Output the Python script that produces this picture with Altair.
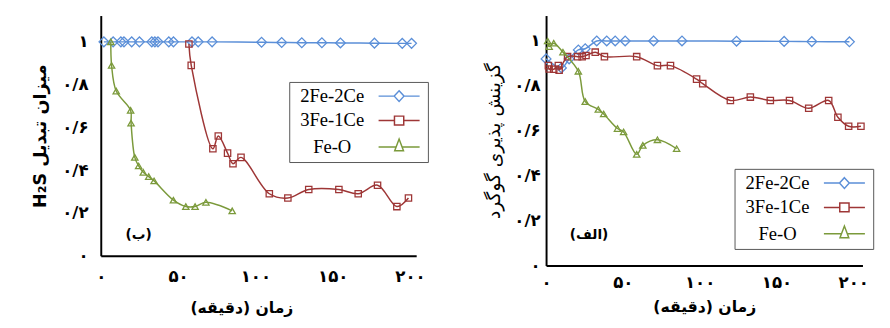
import altair as alt
import pandas as pd

# ---------------- data ----------------
series_names = ["2Fe-2Ce", "3Fe-1Ce", "Fe-O"]
series_colors = ["#5b8fd8", "#9e3636", "#7b9a3b"]
point_shapes = ["diamond", "square", "triangle-up"]
point_sizes = [100, 42, 42]

# panel (ب): H2S conversion
b_fe2ce2_t = [2, 8, 13, 15, 20, 25, 33, 35, 37, 44, 47, 59, 63, 72, 104, 117, 130, 143, 155, 177, 195, 201]
b_fe2ce2_v = [1.0, 1.0, 1.0, 1.0, 1.0, 1.0, 1.0, 1.0, 1.0, 1.0, 1.0, 1.0, 1.0, 1.0, 0.998, 0.997, 0.996,
              0.996, 0.995, 0.994, 0.993, 0.993]
b_fe3ce1_t = [57, 58.5, 72.5, 76, 82, 85.5, 90.7, 109, 121, 134.5, 154, 166.5, 179, 191.5, 199]
b_fe3ce1_v = [0.99, 0.89, 0.50, 0.56, 0.48, 0.43, 0.46, 0.29, 0.27, 0.31, 0.31, 0.29, 0.33, 0.23, 0.27]
b_feo_t = [6.5, 7, 10, 19.3, 19.6, 22, 24.5, 27.5, 31, 34.5, 47, 55, 61, 68, 85]
b_feo_v = [1.0, 0.89, 0.77, 0.68, 0.62, 0.46, 0.42, 0.39, 0.37, 0.35, 0.26, 0.23, 0.23, 0.25, 0.21]

# panel (الف): sulfur selectivity
a_fe2ce2_t = [0, 10, 15, 21, 25.5, 33, 39.5, 45, 51.5, 70, 88.5, 124, 155, 173, 197.5]
a_fe2ce2_v = [0.92, 0.88, 0.92, 0.96, 0.965, 1.0, 1.0, 1.0, 1.0, 1.0, 1.0, 0.999, 0.998, 0.997, 0.996]
a_fe3ce1_t = [1.5, 2, 5, 8, 8.5, 14, 20.5, 23.5, 26, 32, 38, 59, 72.5, 81, 98, 102, 120, 133, 146,
              158.5, 171, 184, 190, 197, 205]
a_fe3ce1_v = [0.89, 0.875, 0.874, 0.89, 0.87, 0.93, 0.93, 0.93, 0.935, 0.95, 0.93, 0.93, 0.89, 0.89,
              0.83, 0.81, 0.735, 0.75, 0.735, 0.735, 0.70, 0.735, 0.66, 0.62, 0.62]
a_feo_t = [1, 2, 5, 11, 21, 25.5, 34, 37.5, 46.5, 50.5, 59, 63, 72.5, 85]
a_feo_v = [1.0, 0.975, 0.99, 0.95, 0.865, 0.73, 0.695, 0.675, 0.61, 0.595, 0.495, 0.535, 0.56, 0.52]

# axis ticks
x_tick_values = [0, 50, 100, 150, 200]
x_tick_labels = ["۰", "۵۰", "۱۰۰", "۱۵۰", "۲۰۰"]
y_tick_values = [0, 0.2, 0.4, 0.6, 0.8, 1]
y_tick_labels = ["۰", "۰/۲", "۰/۴", "۰/۶", "۰/۸", "۱"]

# texts
x_title = "\u200fزمان (دقیقه)\u200f"
b_y_title = "H₂S میزان تبدیل"
a_y_title = "گزینش پذیری گوگرد"
annot_text = ["(ب)", "(الف)"]
annot_t = [24.5, 28]
annot_v = [0.095, 0.135]

# legend symbols (line with marker) as custom paths
legend_paths = [
    "M-4.2,0L-1,0M1,0L4.2,0M0,-1.1L1,0L0,1.1L-1,0Z",
    "M-4.2,0L-0.95,0M0.95,0L4.2,0M-0.95,-0.9L0.95,-0.9L0.95,0.9L-0.95,0.9Z",
    "M-4.2,0L-0.6,0M0.6,0L4.2,0M-0.9,0.8L0,-1.6L0.9,0.8Z",
]


def label_expr(values, labels):
    s = ""
    for v, l in zip(values, labels):
        s += f"abs(datum.value-({v}))<1e-6?'{l}':"
    return s + "''"


def make_df(ts, vs):
    rows = []
    for name, t, v in zip(series_names, ts, vs):
        for ti, vi in zip(t, v):
            rows.append({"series": name, "t": ti, "v": vi})
    return pd.DataFrame(rows)


df_b = make_df([b_fe2ce2_t, b_fe3ce1_t, b_feo_t], [b_fe2ce2_v, b_fe3ce1_v, b_feo_v])
df_a = make_df([a_fe2ce2_t, a_fe3ce1_t, a_feo_t], [a_fe2ce2_v, a_fe3ce1_v, a_feo_v])

FA_FONT = "DejaVu Sans"


def panel(df, xmax, ymax, w, h, ytitle, ytitle_bold, ytitle_size, annot_i, legend_xy, x_title_x,
          x_lab_pad, x_title_pad, y_lab_pad, y_title_pad):
    xscale = alt.Scale(domain=[0, xmax], nice=False, zero=False)
    yscale = alt.Scale(domain=[0, ymax], nice=False, zero=False)
    xaxis = alt.Axis(values=x_tick_values, labelExpr=label_expr(x_tick_values, x_tick_labels),
                     title=x_title, titleFontSize=16, titleFontWeight="bold", titleFont=FA_FONT,
                     labelPadding=x_lab_pad, titlePadding=x_title_pad, ticks=False, tickSize=0,
                     grid=False, titleX=x_title_x, labelFlush=False)
    yaxis = alt.Axis(values=y_tick_values, labelExpr=label_expr(y_tick_values, y_tick_labels),
                     title=ytitle, titleFontSize=ytitle_size,
                     titleFontWeight="bold" if ytitle_bold else "normal", titleFont=FA_FONT,
                     labelPadding=y_lab_pad, titlePadding=y_title_pad, ticks=False, tickSize=0,
                     grid=False, labelFlush=False)
    color_scale = alt.Scale(domain=series_names, range=series_colors)
    base = alt.Chart(df)
    layers = []
    for name, col, shp, sz in zip(series_names, series_colors, point_shapes, point_sizes):
        sub = base.transform_filter(alt.datum.series == name)
        layers.append(sub.mark_line(interpolate="catmull-rom", strokeWidth=1.5, color=col))
        layers.append(
            sub.mark_point(shape=shp, filled=False, size=sz, strokeWidth=1.3, color=col, opacity=1)
        )
    legend = alt.Legend(
        orient="none", legendX=legend_xy[0], legendY=legend_xy[1], title=None,
        padding=5, fillColor="white", strokeColor="#555555",
        labelFont="Liberation Serif", labelFontSize=19, labelColor="black",
        labelAlign="center", labelOffset={"expr": "-78"}, symbolOffset=98, symbolSize=100,
        symbolStrokeWidth=1.5, symbolOpacity=1, rowPadding=5, labelLimit=200,
    )
    leg = base.mark_point(filled=False, size=100, strokeWidth=1.5, opacity=0).encode(
        color=alt.Color("series:N", scale=color_scale, legend=legend),
        shape=alt.Shape("series:N", scale=alt.Scale(domain=series_names, range=legend_paths),
                        legend=legend),
    )
    layers.append(leg)
    adf = pd.DataFrame({"txt": [annot_text[annot_i]], "t": [annot_t[annot_i]], "v": [annot_v[annot_i]]})
    ann = alt.Chart(adf).mark_text(font=FA_FONT, fontSize=14, fontWeight="bold", color="black").encode(
        text="txt:N")
    layers.append(ann)
    return alt.layer(*layers).encode(
        x=alt.X("t:Q", scale=xscale, axis=xaxis),
        y=alt.Y("v:Q", scale=yscale, axis=yaxis),
    ).properties(width=w, height=h)


left = panel(df_b, 204, 1.123, 323, 246, b_y_title, True, 18, 0, (193, 68), 144, 13, 16, 13, 13)
right = panel(df_a, 206, 1.113, 324, 256, a_y_title, False, 19, 1, (193, 157), 162, 9, 9, 6, 11)

chart = alt.hconcat(left, right, spacing=133, bounds="flush").resolve_legend(
    color="independent", shape="independent"
).properties(
    padding={"left": 24, "top": 4, "right": 0, "bottom": 0}
).configure_view(stroke=None).configure_axis(
    domainColor="black", domainWidth=2, labelFont=FA_FONT, labelFontSize=17,
    labelFontWeight="bold", labelColor="black", titleColor="black"
)

chart.save("out.html", embed_options={"renderer": "svg", "actions": False})
